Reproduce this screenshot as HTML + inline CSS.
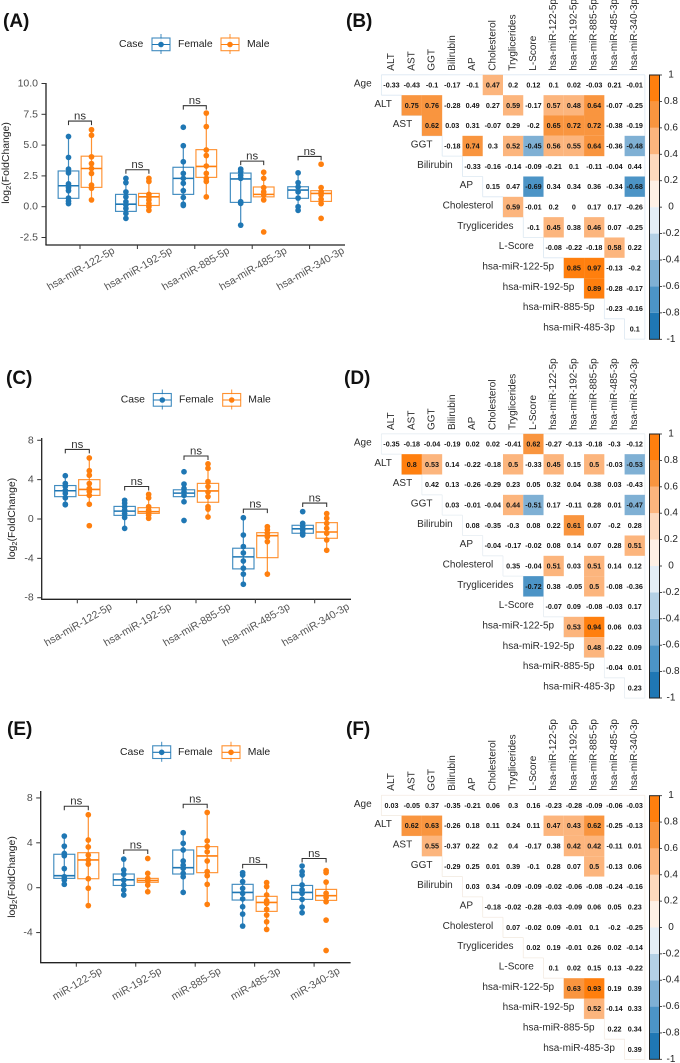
<!DOCTYPE html>
<html lang="en">
<head>
<meta charset="utf-8">
<title>Fold change box plots and correlation heatmaps</title>
<style>
  html, body { margin: 0; padding: 0; background: #fff; }
  svg { display: block; font-family: "Liberation Sans", sans-serif; filter: blur(0.3px); }
  .panel-letter { font-size: 19px; font-weight: bold; fill: #111; }
</style>
</head>
<body>
<svg id="figure" xmlns="http://www.w3.org/2000/svg" width="680" height="1063" viewBox="0 0 680 1063">
  <rect width="680" height="1063" fill="#ffffff"/>
  <text class="panel-letter" x="3" y="27">(A)</text>
  <text class="panel-letter" x="346" y="27">(B)</text>
  <text class="panel-letter" x="6" y="384">(C)</text>
  <text class="panel-letter" x="344" y="384">(D)</text>
  <text class="panel-letter" x="7" y="735">(E)</text>
  <text class="panel-letter" x="346" y="735">(F)</text>
  <g id="panel-a"></g>
  <g id="panel-b"></g>
  <g id="panel-c"></g>
  <g id="panel-d"></g>
  <g id="panel-e"></g>
  <g id="panel-f"></g>
</svg>
<script>
/* ---------- categories ---------- */
const hsaCategories = ['hsa-miR-122-5p', 'hsa-miR-192-5p', 'hsa-miR-885-5p', 'hsa-miR-485-3p', 'hsa-miR-340-3p'];
const shortCategories = ['miR-122-5p', 'miR-192-5p', 'miR-885-5p', 'miR-485-3p', 'miR-340-3p'];

/* ---------- panel A ---------- */
const panelATicks = [10, 7.5, 5, 2.5, 0, -2.5];
const panelATickLabels = ['10.0', '7.5', '5.0', '2.5', '0.0', '-2.5'];
const panelAFemalePoints = [
  [5.7, 4.0, 3.05, 2.75, 1.85, 1.55, 1.3, 0.7, 0.45, 0.25],
  [2.3, 1.95, 1.2, 0.8, 0.4, 0.15, -0.15, -0.55, -0.95],
  [6.45, 4.95, 3.65, 2.7, 2.3, 1.9, 1.3, 0.75, 0.2, 0.1],
  [3.05, 2.85, 2.55, 2.3, 0.4, 0.27, -1.5],
  [2.75, 1.95, 1.6, 1.2, 0.7, 0, -0.3]
];
const panelAMalePoints = [
  [6.25, 5.8, 4.05, 3.5, 3.1, 2.7, 1.75, 1.5, 0.55],
  [2.3, 2.05, 1.0, 0.8, 0.55, 0.25, 0, -0.3],
  [7.6, 6.5, 4.6, 4.15, 3.3, 2.7, 2.3, 2.05, 0.8],
  [2.8, 2.3, 1.55, 1.2, 0.95, 0.55, -2.05],
  [3.45, 1.55, 1.2, 0.95, 0.6, 0.25, -0.95]
];
/* q1, median, q3, whisker low, whisker high */
const panelAFemaleBoxes = [
  [0.68, 1.7, 2.9, 0.25, 5.7],
  [-0.38, 0.2, 1.0, -0.95, 2.3],
  [1.0, 2.3, 3.2, 0.1, 4.95],
  [0.35, 2.25, 2.73, -1.5, 3.05],
  [0.68, 1.35, 1.62, -0.3, 2.75]
];
const panelAMaleBoxes = [
  [1.57, 3.1, 4.1, 0.55, 6.25],
  [0.1, 0.8, 1.08, -0.3, 2.3],
  [2.38, 3.27, 4.63, 0.8, 7.6],
  [0.8, 1.0, 1.6, 0.5, 2.8],
  [0.43, 1.08, 1.3, 0.25, 1.55]
];
const panelABracketLevels = [6.95, 3.0, 8.2, 3.7, 4.08];

/* ---------- panel C ---------- */
const panelCTicks = [8, 4, 0, -4, -8];
const panelCTickLabels = ['8', '4', '0', '-4', '-8'];
const panelCFemalePoints = [
  [4.4, 3.6, 3.3, 2.9, 2.6, 2.15, 1.5, 1.45],
  [1.9, 1.6, 1.25, 0.9, 0.55, 0.15, -0.95],
  [4.8, 3.55, 3.1, 2.75, 2.4, 1.75, -0.15],
  [0.13, -1.63, -2.8, -3.45, -4.27, -5.0, -5.6, -6.63],
  [0.75, -0.44, -0.78, -1.1, -1.4, -1.63]
];
const panelCMalePoints = [
  [6.2, 4.9, 4.45, 3.6, 3.1, 2.8, 2.4, 1.5, -0.68],
  [2.5, 2.15, 1.25, 0.9, 0.65, 0.4, 0.07],
  [5.6, 5.15, 3.8, 3.3, 2.75, 2.27, 1.25, 1.0, 0.2],
  [-0.78, -1.1, -1.45, -1.8, -2.3, -5.6],
  [0.55, 0.07, -0.44, -0.95, -1.45, -2.13, -3.18]
];
const panelCFemaleBoxes = [
  [2.27, 2.87, 3.4, 1.45, 4.4],
  [0.37, 0.8, 1.28, -0.95, 1.9],
  [2.27, 2.63, 2.97, 1.75, 3.55],
  [-5.07, -3.85, -2.97, -6.63, 0.13],
  [-1.45, -1.0, -0.64, -1.63, -0.44]
];
const panelCMaleBoxes = [
  [2.4, 3.0, 4.0, 1.5, 6.2],
  [0.57, 0.75, 1.15, 0.07, 2.5],
  [1.7, 2.85, 3.62, 0.2, 5.6],
  [-3.93, -1.7, -1.39, -5.6, -0.78],
  [-1.96, -1.32, -0.37, -3.18, 0.55]
];
const panelCBracketLevels = [7.07, 3.3, 6.4, 1.0, 1.62];

/* ---------- panel E ---------- */
const panelETicks = [8, 4, 0, -4];
const panelETickLabels = ['8', '4', '0', '-4'];
const panelEFemalePoints = [
  [4.6, 3.7, 3.05, 2.85, 1.7, 0.98, 0.68, 0.3],
  [2.55, 1.58, 1.2, 0.68, 0.24, -0.2, -0.65],
  [4.9, 3.95, 3.36, 2.38, 2.0, 1.72, 1.28, 0.98, -0.42],
  [1.34, 1.13, 0.54, -0.06, -0.5, -1.0, -1.7, -2.35, -3.42],
  [1.93, 1.43, 1.13, 0.24, -0.2, -0.5, -1.04, -1.73, -2.23]
];
const panelEMalePoints = [
  [6.5, 4.25, 3.63, 2.9, 2.47, 2.1, 0.8, -0.05, -1.6],
  [2.6, 1.28, 0.83, 0.62, 0.24, -0.36],
  [6.7, 4.17, 3.66, 3.2, 2.38, 1.43, 1.07, 0.3, -1.49],
  [0.45, 0.1, -0.65, -1.16, -1.4, -1.93, -2.44, -3.04, -3.72],
  [1.52, 1.34, 0.5, -0.5, -0.86, -1.25, -2.89, -5.6]
];
const panelEFemaleBoxes = [
  [0.83, 1.07, 2.98, 0.3, 4.6],
  [0.2, 0.7, 1.22, -0.65, 2.55],
  [1.22, 1.78, 3.36, -0.42, 4.9],
  [-1.1, -0.42, 0.3, -3.42, 1.34],
  [-1.04, -0.42, 0.2, -2.23, 1.93]
];
const panelEMaleBoxes = [
  [0.8, 2.47, 3.12, -1.6, 6.5],
  [0.48, 0.65, 0.83, -0.36, 1.28],
  [1.34, 2.83, 3.66, -1.49, 6.7],
  [-2.11, -1.31, -0.77, -3.72, 0.45],
  [-1.13, -0.71, -0.15, -1.25, 0.5]
];
const panelEBracketLevels = [7.26, 3.36, 7.44, 2.08, 2.6];

/* ---------- heatmap labels ---------- */
const heatColumnLabels = ['ALT', 'AST', 'GGT', 'Bilirubin', 'AP', 'Cholesterol', 'Tryglicerides', 'L-Score', 'hsa-miR-122-5p', 'hsa-miR-192-5p', 'hsa-miR-885-5p', 'hsa-miR-485-3p', 'hsa-miR-340-3p'];
const heatRowLabels = ['Age', 'ALT', 'AST', 'GGT', 'Bilirubin', 'AP', 'Cholesterol', 'Tryglicerides', 'L-Score', 'hsa-miR-122-5p', 'hsa-miR-192-5p', 'hsa-miR-885-5p', 'hsa-miR-485-3p'];
const colorbarLabels = ['1', '0.8', '0.6', '0.4', '0.2', '0', '-0.2', '-0.4', '-0.6', '-0.8', '-1'];
const colorbarBins = ['#1f77b4', '#4c94c6', '#7fb0d4', '#b4d1e6', '#e4eef6', '#fef0e5', '#fdd9bd', '#fcb57d', '#f9953f', '#ff7f0e'];

/* ---------- heatmap B: each row starts at its own diagonal column ---------- */
const heatValuesB = [
  [-0.33, -0.43, -0.1, -0.17, -0.1, 0.47, 0.2, 0.12, 0.1, 0.02, -0.03, 0.21, -0.01],
  [0.75, 0.76, -0.28, 0.49, 0.27, 0.59, -0.17, 0.57, 0.48, 0.64, -0.07, -0.25],
  [0.62, 0.03, 0.31, -0.07, 0.29, -0.2, 0.65, 0.72, 0.72, -0.38, -0.19],
  [-0.18, 0.74, 0.3, 0.52, -0.45, 0.56, 0.55, 0.64, -0.36, -0.48],
  [-0.33, -0.16, -0.14, -0.09, -0.21, 0.1, -0.11, -0.04, 0.44],
  [0.15, 0.47, -0.69, 0.34, 0.34, 0.36, -0.34, -0.68],
  [0.59, -0.01, 0.2, 0, 0.17, 0.17, -0.26],
  [-0.1, 0.45, 0.38, 0.46, 0.07, -0.25],
  [-0.08, -0.22, -0.18, 0.58, 0.22],
  [0.85, 0.97, -0.13, -0.2],
  [0.89, -0.28, -0.17],
  [-0.23, -0.16],
  [0.1]
];
/* column indexes of the significant (coloured) cells in each row */
const heatSignificantB = [[5], [1, 2, 6, 8, 9, 10], [2, 8, 9, 10], [4, 6, 7, 8, 9, 10, 12], [], [7, 12], [6], [8, 10], [11], [9, 10], [10], [], []];

/* ---------- heatmap D ---------- */
const heatValuesD = [
  [-0.35, -0.18, -0.04, -0.19, 0.02, 0.02, -0.41, 0.62, -0.27, -0.13, -0.18, -0.3, -0.12],
  [0.8, 0.53, 0.14, -0.22, -0.18, 0.5, -0.33, 0.45, 0.15, 0.5, -0.03, -0.53],
  [0.42, 0.13, -0.26, -0.29, 0.23, 0.05, 0.32, 0.04, 0.38, 0.03, -0.43],
  [0.03, -0.01, -0.04, 0.44, -0.51, 0.17, -0.11, 0.28, 0.01, -0.47],
  [0.08, -0.35, -0.3, 0.08, 0.22, 0.61, 0.07, -0.2, 0.28],
  [-0.04, -0.17, -0.02, 0.08, 0.14, 0.07, 0.28, 0.51],
  [0.35, -0.04, 0.51, 0.03, 0.51, 0.14, 0.12],
  [-0.72, 0.38, -0.05, 0.5, -0.08, -0.36],
  [-0.07, 0.09, -0.08, -0.03, 0.17],
  [0.53, 0.94, 0.06, 0.03],
  [0.48, -0.22, 0.09],
  [-0.04, 0.01],
  [0.23]
];
const heatSignificantD = [[7], [1, 2, 6, 8, 10, 12], [], [6, 7, 12], [9], [12], [8, 10], [7, 10], [], [9, 10], [10], [], []];

/* ---------- heatmap F ---------- */
const heatValuesF = [
  [0.03, -0.05, 0.37, -0.35, -0.21, 0.06, 0.3, 0.16, -0.23, -0.28, -0.09, -0.06, -0.03],
  [0.62, 0.63, -0.26, 0.18, 0.11, 0.24, 0.11, 0.47, 0.43, 0.62, -0.25, -0.13],
  [0.55, -0.37, 0.22, 0.2, 0.4, -0.17, 0.38, 0.42, 0.42, -0.11, 0.01],
  [-0.29, 0.25, 0.01, 0.39, -0.1, 0.28, 0.07, 0.5, -0.13, 0.06],
  [0.03, 0.34, -0.09, -0.09, -0.02, -0.06, -0.08, -0.24, -0.16],
  [-0.18, -0.02, -0.28, -0.03, -0.09, 0.06, 0.05, 0.23],
  [0.07, -0.02, 0.09, -0.01, 0.1, -0.2, -0.25],
  [0.02, 0.19, -0.01, 0.26, 0.02, -0.14],
  [0.1, 0.02, 0.15, 0.13, -0.22],
  [0.63, 0.93, 0.19, 0.39],
  [0.52, -0.14, 0.33],
  [0.22, 0.34],
  [0.39]
];
const heatSignificantF = [[], [1, 2, 8, 9, 10], [2, 9, 10], [10], [], [], [], [], [], [9, 10], [10], [], []];

/* ---------- helpers ---------- */
const SVG_NS = 'http://www.w3.org/2000/svg';
const FEMALE = '#1f77b4';
const MALE = '#ff7f0e';

function make(tag, attrs, parent, text) {
  const node = document.createElementNS(SVG_NS, tag);
  for (const k in attrs) node.setAttribute(k, attrs[k]);
  if (text !== undefined) node.textContent = text;
  parent.appendChild(node);
  return node;
}

function drawLegend(g, cfg) {
  const caseText = make('text', { x: cfg.caseX, y: cfg.y, 'font-size': 10.4, fill: '#222', 'dominant-baseline': 'central' }, g, 'Case');
  
  
  const entries = [['Female', FEMALE, cfg.keyF, cfg.femX], ['Male', MALE, cfg.keyM, cfg.maleX]];
  entries.forEach(function (entry) {
    const key = make('g', {}, g);
    
    
    const cx = entry[2] + 9;
    make('line', { x1: cx, x2: cx, y1: cfg.y - 10.5, y2: cfg.y + 9.5, stroke: entry[1], 'stroke-width': 1, opacity: 0.85 }, key);
    make('rect', { x: entry[2], y: cfg.y - 6.5, width: 18, height: 12.7, fill: '#fff', stroke: entry[1], 'stroke-width': 1.1, opacity: 0.85 }, key);
    make('line', { x1: entry[2], x2: entry[2] + 18, y1: cfg.y, y2: cfg.y, stroke: entry[1], 'stroke-width': 1.1 }, key);
    make('circle', { cx: cx, cy: cfg.y, r: 2.8, fill: entry[1] }, key);
    const label = make('text', { x: entry[3], y: cfg.y, 'font-size': 10.4, fill: '#222', 'dominant-baseline': 'central' }, g, entry[0]);
    
    
  });
}

function drawBoxPlot(groupId, cfg, categories, ticks, tickLabels, femalePoints, malePoints, femaleBoxes, maleBoxes, bracketLevels) {
  const g = document.getElementById(groupId);
  const yScale = function (v) { return cfg.y0 - v * cfg.k; };
  const xScale = function (i) { return cfg.xFirst + i * cfg.step; };

  drawLegend(g, cfg.legend);

  const yAxis = make('line', { x1: cfg.axisX, x2: cfg.axisX, y1: cfg.axisTop, y2: cfg.axisBottom, stroke: '#222', 'stroke-width': 1.3 }, g);
  
  
  const xAxis = make('line', { x1: cfg.axisX - 0.6, x2: cfg.axisRight, y1: cfg.axisBottom, y2: cfg.axisBottom, stroke: '#222', 'stroke-width': 1.3 }, g);
  
  

  ticks.forEach(function (value, i) {
    const mark = make('line', { x1: cfg.axisX - 4.5, x2: cfg.axisX, y1: yScale(value), y2: yScale(value), stroke: '#333', 'stroke-width': 1 }, g);
    
    
    const label = make('text', { x: cfg.axisX - 8, y: yScale(value), 'font-size': 10.5, fill: '#4d4d4d', 'text-anchor': 'end', 'dominant-baseline': 'central' }, g, tickLabels[i]);
    
    
  });

  const title = make('text', { transform: 'translate(' + cfg.titleX + ',' + cfg.titleY + ') rotate(-90)', 'font-size': 10.4, fill: '#222', 'text-anchor': 'middle', 'dominant-baseline': 'central' }, g);
  
  
  make('tspan', {}, title, 'log');
  make('tspan', { dy: 2, 'font-size': 7.5 }, title, '2');
  make('tspan', { dy: -2 }, title, '(FoldChange)');

  categories.forEach(function (name, i) {
    const cx = xScale(i);
    const mark = make('line', { x1: cx, x2: cx, y1: cfg.axisBottom, y2: cfg.axisBottom + 4, stroke: '#333', 'stroke-width': 1 }, g);
    
    
    const label = make('text', { transform: 'translate(' + (cx + 1) + ',' + cfg.labelY + ') rotate(-30)', 'font-size': 10.6, fill: '#555', 'text-anchor': 'middle', 'dominant-baseline': 'central' }, g, name);
    
    

    const groups = [['female', FEMALE, cx - cfg.dodge, femaleBoxes[i], femalePoints[i]], ['male', MALE, cx + cfg.dodge, maleBoxes[i], malePoints[i]]];
    groups.forEach(function (item) {
      const color = item[1], bx = item[2], st = item[3];
      const series = make('g', {}, g);
      
      
      make('line', { x1: bx, x2: bx, y1: yScale(st[4]), y2: yScale(st[3]), stroke: color, 'stroke-width': 1.2, opacity: 0.85 }, series);
      make('rect', { x: bx - cfg.boxW / 2, y: yScale(st[2]), width: cfg.boxW, height: yScale(st[0]) - yScale(st[2]), fill: 'none', stroke: color, 'stroke-width': 1.15, opacity: 0.85 }, series);
      make('line', { x1: bx - cfg.boxW / 2, x2: bx + cfg.boxW / 2, y1: yScale(st[1]), y2: yScale(st[1]), stroke: color, 'stroke-width': 1.6 }, series);
      item[4].forEach(function (v) {
        const dot = make('circle', { cx: bx, cy: yScale(v), r: 2.85, fill: color }, series);
        
        
      });
    });

    const by = yScale(bracketLevels[i]);
    const bracket = make('path', { d: 'M' + (cx - cfg.dodge) + ' ' + (by + 4) + 'V' + by + 'H' + (cx + cfg.dodge) + 'V' + (by + 4), fill: 'none', stroke: '#333', 'stroke-width': 1.05 }, g);
    
    
    const ns = make('text', { x: cx, y: by - 4.5, 'font-size': 11.4, fill: '#333', 'text-anchor': 'middle', 'dominant-baseline': 'central' }, g, 'ns');
    
    
  });
}

function binColor(v) {
  let idx = Math.floor((v + 1) / 0.2 + 1e-9);
  if (idx < 0) idx = 0;
  if (idx > 9) idx = 9;
  return colorbarBins[idx];
}

function drawHeatmap(groupId, cfg, values, significant) {
  const g = document.getElementById(groupId);
  const colX = function (c) { return 391.5 + c * 20.27; };
  const rowY = function (r) { return cfg.y0 + r * 20.33; };
  const halfW = 10.14, halfH = 10.17;
  const pale = cfg.edge;

  heatColumnLabels.forEach(function (name, c) {
    const label = make('text', { transform: 'translate(' + colX(c) + ',' + cfg.colBottom + ') rotate(-90)', 'font-size': 10, fill: '#2b2b2b', 'dominant-baseline': 'central' }, g, name);
    
    
  });

  const outline = make('g', { stroke: pale, 'stroke-width': 0.8, fill: 'none' }, g);
  
  
  make('line', { x1: colX(0) - halfW, x2: colX(12) + halfW, y1: rowY(0) - halfH, y2: rowY(0) - halfH }, outline);
  make('line', { x1: colX(12) + halfW, x2: colX(12) + halfW, y1: rowY(0) - halfH, y2: rowY(12) + halfH }, outline);

  values.forEach(function (row, r) {
    const rowLabel = make('text', { x: colX(r) - halfW - 9.7, y: rowY(r) - 1, 'font-size': 10, fill: '#2b2b2b', 'text-anchor': 'end', 'dominant-baseline': 'central' }, g, heatRowLabels[r]);
    
    
    make('line', { x1: colX(r) - halfW, x2: colX(r) - halfW, y1: rowY(r) - halfH, y2: rowY(r) + halfH }, outline);
    make('line', { x1: colX(r) - halfW, x2: colX(r) + halfW, y1: rowY(r) + halfH, y2: rowY(r) + halfH }, outline);

    row.forEach(function (v, k) {
      const c = r + k;
      if (significant[r].indexOf(c) >= 0) {
        const cell = make('rect', { x: colX(c) - halfW, y: rowY(r) - halfH, width: halfW * 2, height: halfH * 2, fill: binColor(v) }, g);
        
        
      }
    });
  });

  values.forEach(function (row, r) {
    row.forEach(function (v, k) {
      const c = r + k;
      const txt = make('text', { x: colX(c), y: rowY(r), 'font-size': 7.2, 'font-weight': 'bold', fill: '#151515', 'text-anchor': 'middle', 'dominant-baseline': 'central' }, g, String(v));
      
      
    });
  });

  const bar = make('g', {}, g);
  
  
  const barY = function (v) { return cfg.barTop + (1 - v) * (cfg.barBottom - cfg.barTop) / 2; };
  colorbarBins.forEach(function (color, i) {
    const low = -1 + i * 0.2;
    make('rect', { x: 649.5, y: barY(low + 0.2), width: 10, height: barY(low) - barY(low + 0.2), fill: color }, bar);
  });
  make('rect', { x: 649.5, y: cfg.barTop, width: 10, height: cfg.barBottom - cfg.barTop, fill: 'none', stroke: '#222', 'stroke-width': 1 }, bar);
  colorbarLabels.forEach(function (text, i) {
    const v = 1 - i * 0.2;
    const mark = make('line', { x1: 659.5, x2: 662, y1: barY(v), y2: barY(v), stroke: '#222', 'stroke-width': 0.8 }, bar);
    
    
    const label = make('text', { x: 671, y: barY(v), 'font-size': 10, fill: '#222', 'text-anchor': 'middle', 'dominant-baseline': 'central' }, bar, text);
    
    
  });
}

/* ---------- draw ---------- */
drawBoxPlot('panel-a', {
  y0: 206.7, k: 12.32, xFirst: 80, step: 57.4, dodge: 11.5, boxW: 20.7,
  axisX: 46, axisTop: 83, axisBottom: 245, axisRight: 345,
  titleX: 6, titleY: 163, labelY: 269,
  legend: { y: 44.5, caseX: 119, keyF: 152, femX: 178, keyM: 221, maleX: 247 }
}, hsaCategories, panelATicks, panelATickLabels, panelAFemalePoints, panelAMalePoints, panelAFemaleBoxes, panelAMaleBoxes, panelABracketLevels);

drawBoxPlot('panel-c', {
  y0: 519, k: 9.84, xFirst: 77.3, step: 59.35, dodge: 12, boxW: 21.3,
  axisX: 41.7, axisTop: 438, axisBottom: 599.3, axisRight: 351,
  titleX: 12, titleY: 518.7, labelY: 625,
  legend: { y: 400, caseX: 120.7, keyF: 153.3, femX: 179, keyM: 222.7, maleX: 248.3 }
}, hsaCategories, panelCTicks, panelCTickLabels, panelCFemalePoints, panelCMalePoints, panelCFemaleBoxes, panelCMaleBoxes, panelCBracketLevels);

drawBoxPlot('panel-e', {
  y0: 887.7, k: 11.22, xFirst: 76.3, step: 59.45, dodge: 12, boxW: 21,
  axisX: 40.7, axisTop: 791, axisBottom: 962.7, axisRight: 350.6,
  titleX: 12, titleY: 877, labelY: 984,
  legend: { y: 752.3, caseX: 120, keyF: 152.7, femX: 178, keyM: 222, maleX: 247.7 }
}, shortCategories, panelETicks, panelETickLabels, panelEFemalePoints, panelEMalePoints, panelEFemaleBoxes, panelEMaleBoxes, panelEBracketLevels);

drawHeatmap('panel-b', { y0: 85, colBottom: 70.7, barTop: 75, barBottom: 339.3, edge: '#dce8f2' }, heatValuesB, heatSignificantB);
drawHeatmap('panel-d', { y0: 444, colBottom: 430, barTop: 434, barBottom: 698, edge: '#e6edf2' }, heatValuesD, heatSignificantD);
drawHeatmap('panel-f', { y0: 805.4, colBottom: 790.7, barTop: 795.7, barBottom: 1059.3, edge: '#f3ebe2' }, heatValuesF, heatSignificantF);
</script>
</body>
</html>
